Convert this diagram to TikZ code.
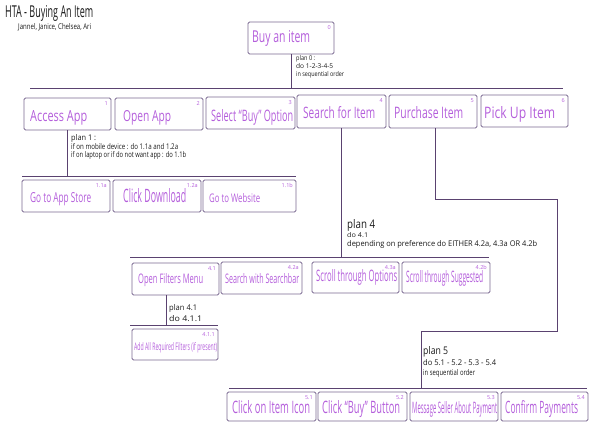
\documentclass[tikz,border=0pt]{standalone}
\usepackage{fontspec}
\setmainfont{Open Sans}
\definecolor{wire}{HTML}{5A4270}
\definecolor{frame}{HTML}{7A6890}
\definecolor{ink}{HTML}{B45EDB}
\definecolor{pen}{HTML}{1A1A1A}
% squeeze a piece of text to a given width and height (in pt)
\newcommand{\squeeze}[3]{\resizebox{#1pt}{#2pt}{#3}}
% task box from its top-left corner (x1,y1) to its bottom-right corner (x2,y2)
\newcommand{\taskbox}[5]{\node[box, minimum width={(#4-#2)*1pt}, minimum height={(#5-#3)*1pt}] (#1) at (#2,#3) {};}
% task number in the top-right corner of a box
\newcommand{\tasknum}[2]{\node[num] (#1n) at ([xshift=-3pt,yshift=-3pt]#1.north east) {#2};}
% task title, baseline at (x,y), squeezed to w x h
\newcommand{\tasklabel}[6]{\node[lbl] (#1t) at (#2,#3) {\squeeze{#4}{#5}{#6}};}
\begin{document}
\begin{tikzpicture}[x=1pt,y=-1pt,
  conn/.style={draw=wire, line width=0.9pt},
  box/.style={draw=frame, line width=0.9pt, rounded corners=1.5pt, inner sep=0pt, outer sep=0pt, anchor=north west},
  lbl/.style={text=ink, inner sep=0pt, anchor=base west},
  num/.style={text=ink, inner sep=0pt, anchor=north east, font=\fontsize{5.5}{6}\selectfont},
  note/.style={text=pen, inner sep=0pt, anchor=base west},
]
\useasboundingbox (0,0) rectangle (592,421);

% heading
\node[note] (title) at (5,17) {\squeeze{88}{12}{HTA - Buying An Item}};
\node[note] (authors) at (18,29) {\squeeze{73}{6}{Jannel, Janice, Chelsea, Ari}};

% level 0
\taskbox{b0}{248}{22}{334}{54}
\tasknum{b0}{0}
\tasklabel{b0}{252}{42}{58}{12}{Buy an item}

\coordinate (bus0w) at (30,88);
\coordinate (bus0e) at (563,88);
\draw[conn] (bus0w) -- (bus0e);
\draw[conn] (b0.south) -- (b0.south |- bus0w);
\node[note] (plan0a) at (296,60) {\squeeze{19}{5}{plan 0 :}};
\node[note] (plan0b) at (296,68) {\squeeze{37}{5}{do 1-2-3-4-5}};
\node[note] (plan0c) at (296,76) {\squeeze{48}{5}{in sequential order}};

% level 1
\taskbox{b1}{24}{98}{111}{130}
\tasknum{b1}{1}
\tasklabel{b1}{30}{121}{57}{11}{Access App}
\taskbox{b2}{115}{98}{203}{130}
\tasknum{b2}{2}
\tasklabel{b2}{123}{121}{48}{11}{Open App}
\taskbox{b3}{206}{97}{295}{129}
\tasknum{b3}{3}
\tasklabel{b3}{211}{121}{82}{12}{Select ``Buy'' Option}
\taskbox{b4}{297}{95}{386}{128}
\tasknum{b4}{4}
\tasklabel{b4}{303}{118}{72}{12}{Search for Item}
\taskbox{b5}{389}{95}{477}{128}
\tasknum{b5}{5}
\tasklabel{b5}{394}{118}{69}{12}{Purchase Item}
\taskbox{b6}{481}{95}{568}{127}
\tasknum{b6}{6}
\tasklabel{b6}{484}{118}{71}{12}{Pick Up Item}

% plan 1
\coordinate (bus1w) at (22,176);
\coordinate (bus1e) at (296,176);
\draw[conn] (bus1w) -- (bus1e);
\draw[conn] (b1.south) -- (b1.south |- bus1w);
\node[note] (plan1a) at (71,140) {\squeeze{25}{6}{plan 1 :}};
\node[note] (plan1b) at (71,149) {\squeeze{107}{6}{if on mobile device : do 1.1a and 1.2a}};
\node[note] (plan1c) at (71,157) {\squeeze{115}{6}{if on laptop or if do not want app : do 1.1b}};

\taskbox{b11a}{22}{180}{110}{212}
\tasknum{b11a}{1.1a}
\tasklabel{b11a}{30}{202}{61}{10}{Go to App Store}
\taskbox{b12a}{113}{180}{201}{212}
\tasknum{b12a}{1.2a}
\tasklabel{b12a}{123}{202}{63}{14}{Click Download}
\taskbox{b11b}{203}{180}{296}{212}
\tasknum{b11b}{1.1b}
\tasklabel{b11b}{209}{202}{51}{9}{Go to Website}

% plan 4
\coordinate (bus4w) at (130,257);
\coordinate (bus4e) at (489,257);
\draw[conn] (bus4w) -- (bus4e);
\draw[conn] (b4.south) -- (b4.south |- bus4w);
\node[note] (plan4a) at (347,228) {\squeeze{28}{9}{plan 4}};
\node[note] (plan4b) at (347,237) {\squeeze{21}{5}{do 4.1}};
\node[note] (plan4c) at (347,246) {\squeeze{190}{6}{depending on preference do EITHER 4.2a, 4.3a OR 4.2b}};

\taskbox{b41}{132}{263}{219}{295}
\tasknum{b41}{4.1}
\tasklabel{b41}{138}{283}{65}{10}{Open Filters Menu}
\taskbox{b42a}{221}{262}{302}{294}
\tasknum{b42a}{4.2a}
\tasklabel{b42a}{225}{283}{74}{10}{Search with Searchbar}
\taskbox{b43a}{312}{262}{399}{293}
\tasknum{b43a}{4.3a}
\tasklabel{b43a}{316}{281}{81}{12}{Scroll through Options}
\taskbox{b42b}{402}{262}{490}{293}
\tasknum{b42b}{4.2b}
\tasklabel{b42b}{406}{282}{77}{12}{Scroll through Suggested}

% plan 4.1
\coordinate (bus41w) at (130,325);
\coordinate (bus41e) at (218,325);
\draw[conn] (bus41w) -- (bus41e);
\draw[conn] ([xshift=-9pt]b41.south) -- ([xshift=-9pt]b41.south |- bus41w);
\node[note] (plan41a) at (169,310) {\squeeze{28}{6}{plan 4.1}};
\node[note] (plan41b) at (169,321) {\squeeze{33}{6}{do 4.1.1}};

\taskbox{b411}{132}{329}{218}{360}
\tasknum{b411}{4.1.1}
\tasklabel{b411}{134}{350}{83}{8}{Add All Required Filters (if present)}

% plan 5, routed around to the right
\coordinate (r2) at (557,199);
\coordinate (r3) at (557,331);
\coordinate (r4) at (421,331);
\coordinate (bus5w) at (229,388);
\coordinate (bus5e) at (587,388);
\draw[conn] (bus5w) -- (bus5e);
\draw[conn] ([xshift=2pt]b5.south) |- (r2) -- (r3) -- (r4) -- (r4 |- bus5w);
\node[note] (plan5a) at (423,354) {\squeeze{25}{8}{plan 5}};
\node[note] (plan5b) at (423,365) {\squeeze{73}{6}{do 5.1 - 5.2 - 5.3 - 5.4}};
\node[note] (plan5c) at (423,375) {\squeeze{52}{6}{in sequential order}};

\taskbox{b51}{227}{392}{316}{421}
\tasknum{b51}{5.1}
\tasklabel{b51}{232}{413}{78}{13}{Click on Item Icon}
\taskbox{b52}{318}{392}{407}{421}
\tasknum{b52}{5.2}
\tasklabel{b52}{322}{413}{78}{13}{Click ``Buy'' Button}
\taskbox{b53}{410}{392}{498}{421}
\tasknum{b53}{5.3}
\tasklabel{b53}{412}{413}{85}{12}{Message Seller About Payment}
\taskbox{b54}{501}{392}{588}{421}
\tasknum{b54}{5.4}
\tasklabel{b54}{505}{413}{73}{13}{Confirm Payments}
\end{tikzpicture}
\end{document}
